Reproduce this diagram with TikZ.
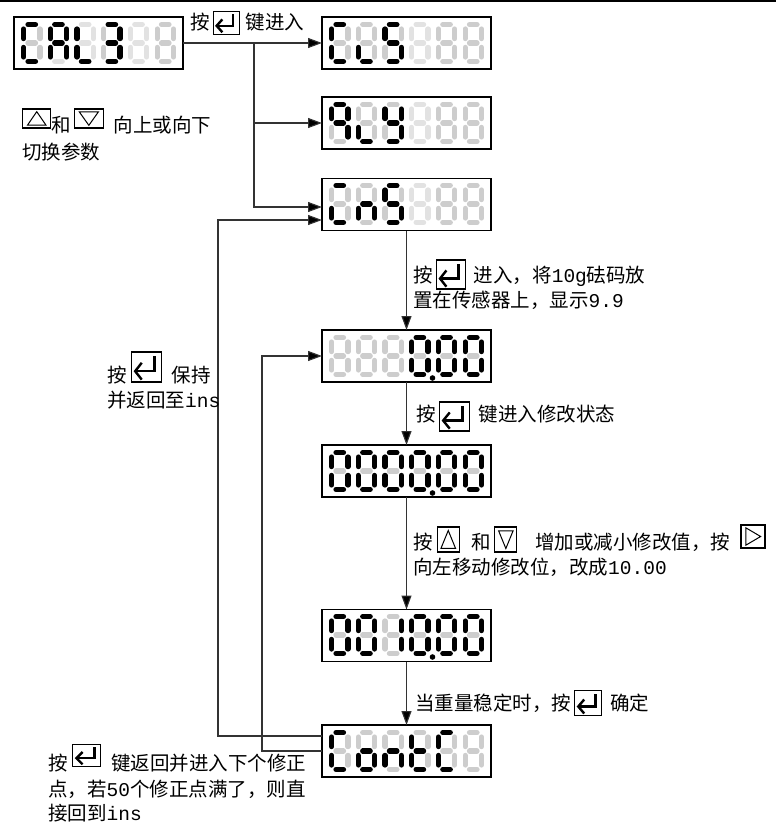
\documentclass[tikz,border=0pt]{standalone}
\usepackage{fontspec}
\setmainfont{Noto Sans CJK SC}
\newfontfamily\lat{Liberation Mono}
\usetikzlibrary{arrows.meta}
\definecolor{segoff}{HTML}{CDCDCD}
\definecolor{segl}{HTML}{E2E2E2}
\tikzset{
 s1/.style={draw=black},
 s0/.style={draw=segoff},
 s2/.style={draw=segl},
 segline/.style={line width=5.2pt,line cap=round},
 dispbox/.style={draw=black,line width=1.2pt,fill=white,minimum width=169pt,minimum height=52pt,inner sep=0pt,outer sep=0pt},
 conn/.style={line width=1.1pt,draw=black!80},
 arr/.style={conn,-{Triangle[length=14pt,width=10pt,fill=black]}},
 txt/.style={anchor=base west,inner sep=0pt,font=\fontsize{19.5pt}{23pt}\selectfont},
}
\newcommand\ltx[1]{{\lat\fontsize{19.5pt}{23pt}\selectfont #1}}
% #1 width, #2 height, #3 baseline (pt above the key's bottom edge)
\newcommand\kenter[3]{\tikz[x=#1pt,y=#2pt,baseline=#3pt]{\draw[line width=1.1pt] (0,0) rectangle (1,1); \draw[line width=2.4pt,line join=miter] (0.77,0.86) -- (0.77,0.36) -- (0.15,0.36); \draw[line width=2.4pt,line join=miter] (0.35,0.64) -- (0.13,0.36) -- (0.35,0.08);}}
\newcommand\kup[3]{\tikz[x=#1pt,y=#2pt,baseline=#3pt]{\draw[line width=1.1pt] (0,0) rectangle (1,1); \draw[line width=1pt,line join=miter] (0.17,0.15) -- (0.83,0.15) -- (0.5,0.86) -- cycle;}}
\newcommand\kdown[3]{\tikz[x=#1pt,y=#2pt,baseline=#3pt]{\draw[line width=1.1pt] (0,0) rectangle (1,1); \draw[line width=1pt,line join=miter] (0.17,0.85) -- (0.83,0.85) -- (0.5,0.14) -- cycle;}}
\newcommand\kright[3]{\tikz[x=#1pt,y=#2pt,baseline=#3pt]{\draw[line width=1.1pt] (0,0) rectangle (1,1); \draw[line width=1pt,line join=miter] (0.2,0.12) -- (0.2,0.88) -- (0.82,0.5) -- cycle;}}
\newcommand\sdig[9]{%
 \pgfmathsetmacro\sgXl{#1+2.6}\pgfmathsetmacro\sgXr{#1+18.9}%
 \pgfmathsetmacro\sgYt{#2+2.6}\pgfmathsetmacro\sgYm{#2+21}\pgfmathsetmacro\sgYb{#2+39.4}%
 \draw[segline,s#3] (\sgXl+4.4,\sgYt) -- (\sgXr-4.4,\sgYt);
 \draw[segline,s#4] (\sgXr,\sgYt+4.4) -- (\sgXr,\sgYm-4.4);
 \draw[segline,s#5] (\sgXr,\sgYm+4.4) -- (\sgXr,\sgYb-4.4);
 \draw[segline,s#6] (\sgXl+4.4,\sgYb) -- (\sgXr-4.4,\sgYb);
 \draw[segline,s#7] (\sgXl,\sgYm+4.4) -- (\sgXl,\sgYb-4.4);
 \draw[segline,s#8] (\sgXl,\sgYt+4.4) -- (\sgXl,\sgYm-4.4);
 \draw[segline,s#9] (\sgXl+4.4,\sgYm) -- (\sgXr-4.4,\sgYm);
}
\newcommand\dispsix[8]{%
 \sdig{#1+7}{#2+5}#3
 \sdig{#1+33.7}{#2+5}#4
 \sdig{#1+60.4}{#2+5}#5
 \sdig{#1+87.1}{#2+5}#6
 \sdig{#1+113.8}{#2+5}#7
 \sdig{#1+140.5}{#2+5}#8
}
\begin{document}
\begin{tikzpicture}[x=1pt,y=-1pt]
\useasboundingbox (0,0) rectangle (776,824);
\draw[line width=2pt] (0,1) -- (776,1);
% display boxes
\node[dispbox] (cal) at (98.5,43) {};
\node[dispbox] (cls) at (406.5,43) {};
\node[dispbox] (qty) at (406.5,123) {};
\node[dispbox] (cns) at (406.5,204.5) {};
\node[dispbox] (z1) at (406.5,356) {};
\node[dispbox] (z2) at (406.5,471) {};
\node[dispbox] (z3) at (406.5,635.5) {};
\node[dispbox] (z4) at (406.5,751) {};
% digits (a b c d e f g)
\dispsix{14}{17}{1001110}{1112111}{2221112}{1111001}{2222222}{0000000}
\dispsix{322}{17}{1001110}{0001100}{1011011}{2222222}{0000000}{0000000}
\dispsix{322}{97}{1110011}{0001100}{0111011}{2222222}{0000000}{0000000}
\dispsix{322}{178}{1001100}{0010101}{1011011}{2222222}{0000000}{0000000}
\dispsix{322}{330}{0000000}{0000000}{0000000}{1111110}{1111110}{1111110}
\dispsix{322}{445}{1111110}{1111110}{1111110}{1111110}{1111110}{1111110}
\dispsix{322}{609}{1111110}{1111110}{0110000}{1111110}{1111110}{1111110}
\dispsix{322}{725}{1001110}{0011101}{0010101}{0001111}{1001110}{0000000}
% decimal points
\fill (432.5,378) circle[radius=2.8pt];
\fill (432.5,493) circle[radius=2.8pt];
\fill (432.5,657) circle[radius=2.8pt];
% connectors
\coordinate (j) at (254,43);
\coordinate (ox) at (218,220);
\coordinate (ix) at (262,356);
\draw[arr] (cal) -- (cls);
\draw[arr] (j) |- (qty.west);
\draw[arr] (j) |- ([yshift=-2.5pt]cns.west);
\draw[arr] (cns) -- (z1);
\draw[arr] (z1) -- (z2);
\draw[arr] (z2) -- (z3);
\draw[arr] (z3) -- (z4);
\draw[arr] ([yshift=15pt]z4.west) -| (ox) -- ([yshift=-15.5pt]cns.west);
\draw[arr] (z4.west) -| (ix) -- (z1.west);
% texts
\node[txt] (t1) at (190,30) {按\hspace{3pt}\kenter{26}{23}{4.1}\hspace{6pt}键进入};
\node[txt] (t2a) at (22,132.4) {\kup{28}{19}{-4.4}和\hspace{3pt}\kdown{29}{19}{-4.4}\hspace{10pt}向上或向下};
\node[txt] (t2b) at (22,159.4) {切换参数};
\node[txt] (t3a) at (413,282.4) {按\hspace{3pt}\kenter{29}{29}{6.6}\hspace{8pt}进入，将\ltx{10g}砝码放};
\node[txt] (t3b) at (413,307) {置在传感器上，显示\ltx{9.9}};
\node[txt] (t4) at (416,421.4) {按\hspace{3pt}\kenter{30}{29}{9.6}\hspace{9pt}键进入修改状态};
\node[txt] (t5a) at (413,549.4) {按\hspace{4pt}\kup{22}{25}{2.6}\hspace{12pt}和\hspace{3pt}\kdown{22}{25}{2.6}\hspace{18pt}增加或减小修改值，按\hspace{10pt}\kright{24}{23}{-1.4}};
\node[txt] (t5b) at (413,574.4) {向左移动修改位，改成\ltx{10.00}};
\node[txt] (t6) at (415,710.4) {当重量稳定时，按\hspace{3pt}\kenter{27}{25}{5.1}\hspace{8pt}确定};
\node[txt] (t7a) at (107,382.4) {按\hspace{4pt}\kenter{30}{30}{-0.4}\hspace{10pt}保持};
\node[txt] (t7b) at (107,407.4) {并返回至\ltx{ins}};
\node[txt] (t8a) at (48,770.5) {按\hspace{4.5pt}\kenter{28}{22}{-4.4}\hspace{10pt}键返回并进入下个修正};
\node[txt] (t8b) at (48,796) {点，若\ltx{50}个修正点满了，则直};
\node[txt] (t8c) at (48,820.5) {接回到\ltx{ins}};
\end{tikzpicture}
\end{document}
